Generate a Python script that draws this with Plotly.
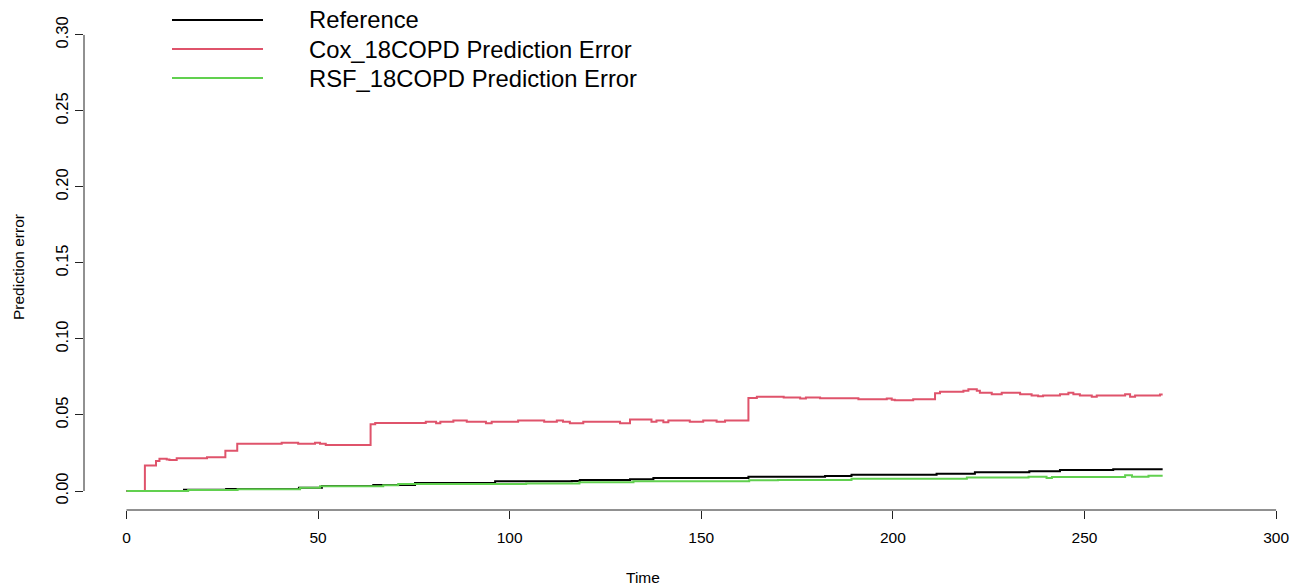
import plotly.graph_objects as go

# Prediction-error step curves (time, error) for each model
ref_time = [0, 15, 26, 45, 51, 64.4, 75.3, 96.2, 116.2, 118.3, 131.4, 137.5, 162.3,
            182.3, 189.2, 211.4, 221.4, 235.6, 243.6, 257.5, 270.4]
ref_err = [0.0, 0.0008, 0.0013, 0.0022, 0.0033, 0.0040, 0.0053, 0.0064, 0.0066, 0.0072,
           0.0078, 0.0086, 0.0093, 0.0099, 0.0107, 0.0114, 0.0123, 0.0130, 0.0138, 0.0143, 0.0143]

cox_time = [0, 4.8, 7.7, 8.6, 10.5, 11.2, 13.1, 21.0, 25.8, 28.9, 40.5, 44.8, 49.2, 50.5, 52.0,
            63.7, 64.9, 78.1, 80.8, 81.9, 85.3, 88.8, 93.8, 95.3, 102.2, 109.0, 112.3, 113.9,
            115.7, 119.2, 128.8, 131.4, 137.0, 138.3, 140.1, 141.4, 147.0, 150.5, 154.0, 156.2,
            162.3, 164.5, 171.5, 175.8, 177.3, 181.0, 191.0, 198.4, 199.7, 200.5, 205.3, 211.0,
            212.3, 218.4, 219.7, 221.9, 222.7, 225.8, 228.4, 233.2, 236.2, 237.9, 239.2, 243.6,
            245.8, 247.1, 248.8, 251.9, 253.2, 260.6, 261.9, 263.2, 269.7, 270.4]
cox_err = [0.0, 0.0167, 0.0197, 0.0212, 0.0208, 0.0204, 0.0215, 0.0222, 0.0265, 0.0311, 0.0318,
           0.0311, 0.0318, 0.0311, 0.0303, 0.0439, 0.0447, 0.0456, 0.0446, 0.0455, 0.0463, 0.0455,
           0.0446, 0.0455, 0.0463, 0.0455, 0.0463, 0.0455, 0.0446, 0.0455, 0.0446, 0.0470, 0.0455,
           0.0463, 0.0453, 0.0463, 0.0455, 0.0463, 0.0455, 0.0463, 0.0612, 0.0620, 0.0615, 0.0609,
           0.0615, 0.0610, 0.0603, 0.0609, 0.0601, 0.0597, 0.0603, 0.0643, 0.0653, 0.0660, 0.0669,
           0.0660, 0.0646, 0.0637, 0.0646, 0.0637, 0.0629, 0.0623, 0.0629, 0.0637, 0.0646, 0.0637,
           0.0629, 0.0620, 0.0629, 0.0637, 0.0620, 0.0629, 0.0635, 0.0635]

rsf_time = [0, 16.1, 29.0, 45.3, 50.5, 67.0, 70.9, 104.3, 118.2, 132.3, 162.5, 170.0, 189.2,
            219.3, 235.4, 240.1, 241.5, 260.6, 262.4, 266.7, 270.4]
rsf_err = [0.0, 0.0007, 0.0012, 0.0022, 0.0031, 0.0037, 0.0046, 0.0050, 0.0057, 0.0064, 0.0070,
           0.0072, 0.0081, 0.0088, 0.0094, 0.0085, 0.0092, 0.0103, 0.0094, 0.0101, 0.0101]

series_names = ["Reference", "Cox_18COPD Prediction Error", "RSF_18COPD Prediction Error"]
series_colors = ["#000000", "#DF536B", "#61D04F"]

x_ticks = [0, 50, 100, 150, 200, 250, 300]
y_ticks = [0.00, 0.05, 0.10, 0.15, 0.20, 0.25, 0.30]
y_tick_text = ["0.00", "0.05", "0.10", "0.15", "0.20", "0.25", "0.30"]

W, H = 1299, 587
M_L, M_R, M_T, M_B = 84, 0, 17, 77
X_RANGE = [-11.09, 305.98]
Y_RANGE = [-0.0125, 0.3118]
FONT = "Liberation Sans, Arial, sans-serif"

fig = go.Figure()
for t, e, name, col in zip([ref_time, cox_time, rsf_time], [ref_err, cox_err, rsf_err],
                           series_names, series_colors):
    fig.add_trace(go.Scatter(x=t, y=e, mode="lines", name=name,
                             line=dict(color=col, width=2, shape="hv"),
                             showlegend=False))


def px_to_paper(px, py):
    pw = W - M_L - M_R
    ph = H - M_T - M_B
    return (px - M_L) / pw, (H - M_B - py) / ph


def data_x_to_paper(v):
    return (v - X_RANGE[0]) / (X_RANGE[1] - X_RANGE[0])


def data_y_to_paper(v):
    return (v - Y_RANGE[0]) / (Y_RANGE[1] - Y_RANGE[0])


shapes = []
# detached axis lines spanning the tick range only
shapes.append(dict(type="line", xref="paper", yref="paper",
                   x0=0, x1=0, y0=data_y_to_paper(y_ticks[0]), y1=data_y_to_paper(y_ticks[-1]),
                   line=dict(color="#222222", width=1)))
shapes.append(dict(type="line", xref="paper", yref="paper",
                   y0=0, y1=0, x0=data_x_to_paper(x_ticks[0]), x1=data_x_to_paper(x_ticks[-1]),
                   line=dict(color="#222222", width=1)))

annotations = []
# legend block drawn at the top left
for i, (name, col) in enumerate(zip(series_names, series_colors)):
    ly = 20 + 29 * i
    xa, ya = px_to_paper(172, ly)
    xb, _ = px_to_paper(263, ly)
    shapes.append(dict(type="line", xref="paper", yref="paper", x0=xa, x1=xb, y0=ya, y1=ya,
                       line=dict(color=col, width=2)))
    xt, _ = px_to_paper(307, ly + 1)
    annotations.append(dict(text=name, xref="paper", yref="paper", x=xt, y=ya,
                            xanchor="left", yanchor="middle", showarrow=False,
                            font=dict(family=FONT, size=23.8, color="#000000")))

# axis titles
tx, ty = px_to_paper(643, 577)
annotations.append(dict(text="Time", xref="paper", yref="paper", x=tx, y=ty,
                        xanchor="center", yanchor="middle", showarrow=False,
                        font=dict(family=FONT, size=15.5, color="#000000")))
tx, ty = px_to_paper(18, 267)
annotations.append(dict(text="Prediction error", xref="paper", yref="paper", x=tx, y=ty,
                        xanchor="center", yanchor="middle", showarrow=False, textangle=-90,
                        font=dict(family=FONT, size=15.5, color="#000000")))

fig.update_layout(
    width=W, height=H,
    margin=dict(l=M_L, r=M_R, t=M_T, b=M_B, pad=0),
    paper_bgcolor="white", plot_bgcolor="white",
    shapes=shapes, annotations=annotations,
    xaxis=dict(range=X_RANGE, tickvals=x_ticks, ticktext=[str(v) for v in x_ticks],
               ticks="outside", ticklen=8, tickwidth=1, tickcolor="#222222",
               showline=False, showgrid=False, zeroline=False,
               ticklabelstandoff=5,
               tickfont=dict(family=FONT, size=15.5, color="#000000")),
    yaxis=dict(range=Y_RANGE, tickvals=y_ticks, ticktext=y_tick_text,
               ticks="outside", ticklen=8, tickwidth=1, tickcolor="#222222",
               showline=False, showgrid=False, zeroline=False, tickangle=-90,
               tickfont=dict(family=FONT, size=16.5, color="#000000")),
)

fig.write_html("out.html")
